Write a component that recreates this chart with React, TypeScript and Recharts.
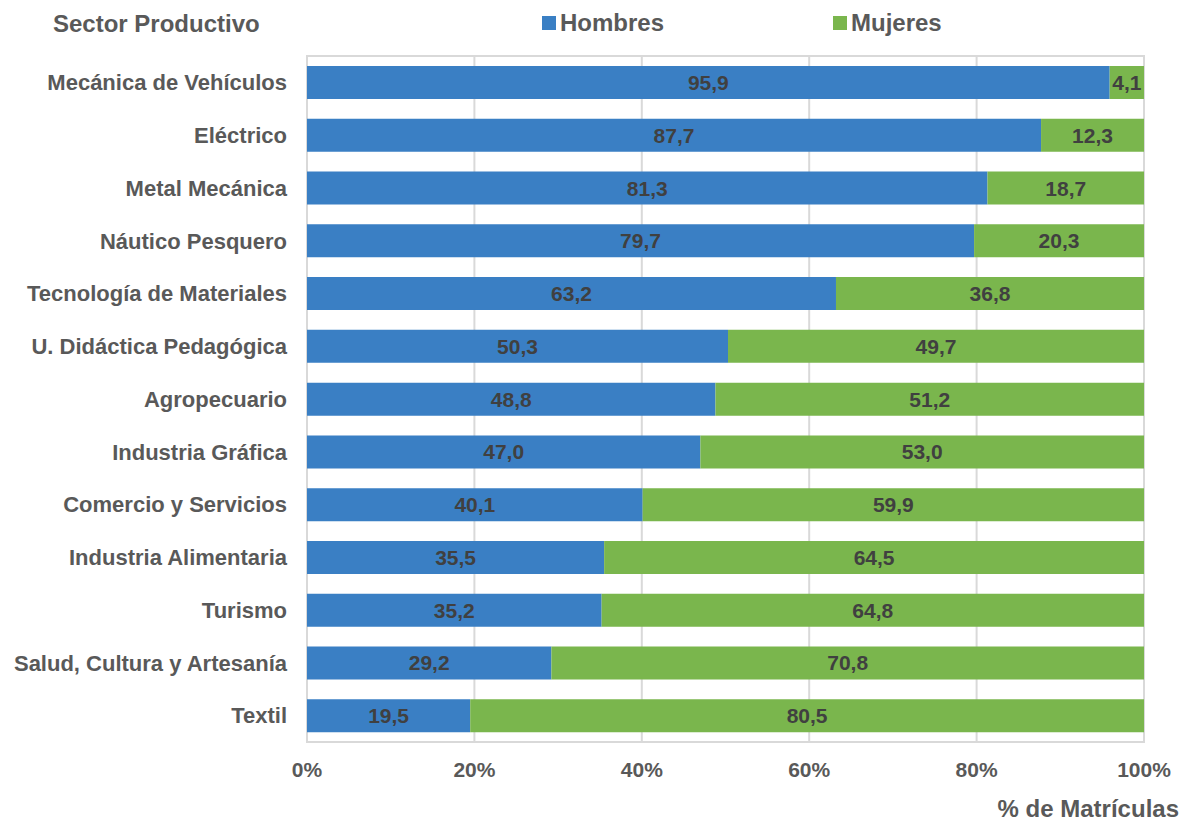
import { BarChart, Bar, XAxis, YAxis, CartesianGrid, LabelList, ReferenceArea } from 'recharts'

const sectors = [
  'Mecánica de Vehículos',
  'Eléctrico',
  'Metal Mecánica',
  'Náutico Pesquero',
  'Tecnología de Materiales',
  'U. Didáctica Pedagógica',
  'Agropecuario',
  'Industria Gráfica',
  'Comercio y Servicios',
  'Industria Alimentaria',
  'Turismo',
  'Salud, Cultura y Artesanía',
  'Textil'
]
const hombres = [95.9, 87.7, 81.3, 79.7, 63.2, 50.3, 48.8, 47.0, 40.1, 35.5, 35.2, 29.2, 19.5]
const mujeres = [4.1, 12.3, 18.7, 20.3, 36.8, 49.7, 51.2, 53.0, 59.9, 64.5, 64.8, 70.8, 80.5]
const xTicks = [0, 20, 40, 60, 80, 100]

const BLUE = '#3a7fc4'
const GREEN = '#7ab64d'
const AXIS_TEXT = '#595959'
const LABEL_TEXT = '#404040'
const FONT = '"Liberation Sans", Arial, sans-serif'

const data = sectors.map((s, i) => ({ sector: s, hombres: hombres[i], mujeres: mujeres[i] }))

const fmt = (v: any) => Number(v).toFixed(1).replace('.', ',')

// legend drawn as plain html so it doesn't push the plot area down
function LegendBox() {
  const items = [
    { name: 'Hombres', color: BLUE, left: 542 },
    { name: 'Mujeres', color: GREEN, left: 833 }
  ]
  return (
    <>
      {items.map(it => (
        <div
          key={it.name}
          style={{ position: 'absolute', left: it.left, top: 9, height: 28, display: 'flex', alignItems: 'center' }}
        >
          <span style={{ display: 'inline-block', width: 14, height: 14, background: it.color, marginRight: 4 }} />
          <span style={{ fontFamily: FONT, fontWeight: 700, fontSize: 24, color: AXIS_TEXT, lineHeight: '28px' }}>
            {it.name}
          </span>
        </div>
      ))}
    </>
  )
}

export default function App() {
  const tickStyle = { fontFamily: FONT, fontWeight: 700, fill: AXIS_TEXT }
  const labelStyle = { fontFamily: FONT, fontWeight: 700, fontSize: 21, fill: LABEL_TEXT }
  return (
    <div style={{ position: 'absolute', left: 0, top: 0, width: 1185, height: 823, background: '#fff' }}>
      <div
        style={{
          position: 'absolute', left: 53, top: 10, fontFamily: FONT, fontWeight: 700,
          fontSize: 24, color: AXIS_TEXT, lineHeight: '28px'
        }}
      >
        Sector Productivo
      </div>
      <LegendBox />
      <div
        style={{
          position: 'absolute', right: 6, top: 795, fontFamily: FONT, fontWeight: 700,
          fontSize: 24, color: AXIS_TEXT, lineHeight: '28px'
        }}
      >
        % de Matrículas
      </div>
      <BarChart
        width={1185}
        height={823}
        data={data}
        layout="vertical"
        margin={{ top: 56, right: 41, bottom: 51, left: 0 }}
        barCategoryGap="19%"
      >
        <CartesianGrid horizontal={false} stroke="#d9d9d9" strokeWidth={2} />
        <ReferenceArea x1={0} x2={100} fill="none" stroke="#d9d9d9" strokeWidth={2} />
        <XAxis
          type="number"
          domain={[0, 100]}
          ticks={xTicks}
          tickFormatter={(v) => `${v}%`}
          axisLine={false}
          tickLine={false}
          tickSize={0}
          tickMargin={20}
          height={30}
          tick={{ ...tickStyle, fontSize: 21 }}
        />
        <YAxis
          type="category"
          dataKey="sector"
          width={307}
          axisLine={false}
          tickLine={false}
          tickSize={0}
          tickMargin={20}
          interval={0}
          tick={{ ...tickStyle, fontSize: 22 }}
        />
        <Bar dataKey="hombres" name="Hombres" stackId="a" fill={BLUE} isAnimationActive={false}>
          <LabelList dataKey="hombres" position="center" formatter={fmt} style={labelStyle} />
        </Bar>
        <Bar dataKey="mujeres" name="Mujeres" stackId="a" fill={GREEN} isAnimationActive={false}>
          <LabelList dataKey="mujeres" position="center" formatter={fmt} style={labelStyle} />
        </Bar>
      </BarChart>
    </div>
  )
}
